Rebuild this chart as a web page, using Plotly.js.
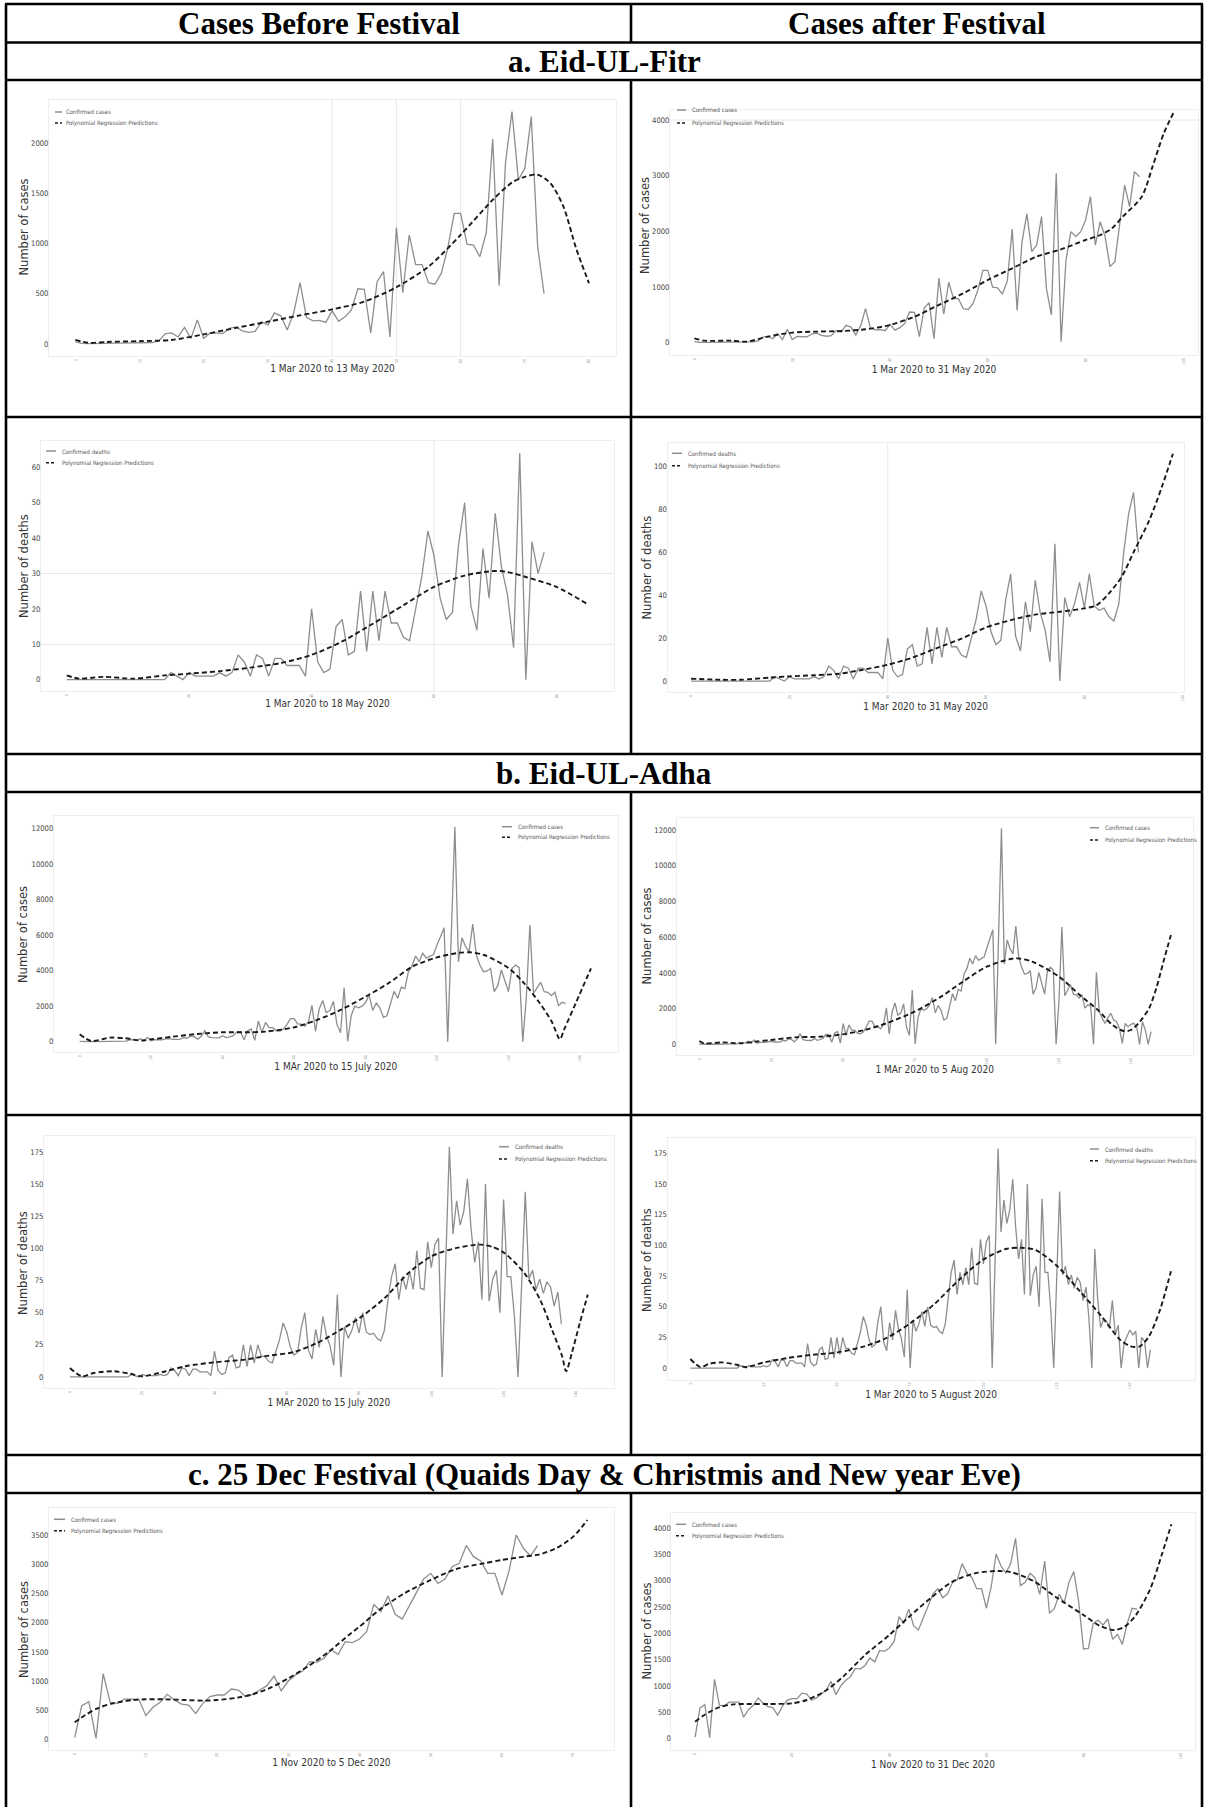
<!DOCTYPE html>
<html><head><meta charset="utf-8">
<script src="https://cdn.plot.ly/plotly-3.0.1.min.js"></script>
<style>html,body{margin:0;padding:0;background:#fff}#chart{width:1205px;height:1807px}</style>
</head><body><div id="chart"></div>
<script>
// ---------------- DATA ----------------
const columnHeaders = ["Cases Before Festival", "Cases after Festival"];
const sectionLabels = ["a. Eid-UL-Fitr", "b. Eid-UL-Adha", "c. 25 Dec Festival (Quaids Day & Christmis and New year Eve)"];
const seriesCasesLabel = "Confirmed cases";
const seriesDeathsLabel = "Confirmed deaths";
const seriesFitLabel = "Polynomial Regression Predictions";

// daily confirmed cases from 1 Mar 2020 (day 0) to 5 Aug 2020 (day 157)
const casesMarAug = [
  20,5,4,4,5,5,5,6,8,10,12,10,14,30,
  100,110,70,165,55,240,55,110,105,105,155,170,130,115,125,220,190,310,280,140,
  305,610,265,230,235,215,330,225,270,340,550,545,110,620,720,70,1160,510,1085,790,
  790,610,595,705,955,1300,1300,995,985,870,1110,2040,580,1810,2315,1635,1750,2265,970,500,
  3042,18,1485,1994,1904,1994,2200,2622,1754,2173,1904,1365,1455,2100,2832,2443,3072,2982,
  3940,4250,4818,4500,4968,4700,4780,4900,5437,5906,6412,0,6000,12093,4500,5850,5343,5062,6618,4875,
  4312,3937,3975,4125,2812,3150,4030,3375,2812,4125,4312,4162,0,2475,6562,2718,3000,3337,2812,2775,
  2587,2775,2025,2212,2156,0,4031,1829,1455,1175,1500,1735,1362,1269,896,56,1175,989,1120,1175,
  989,0,1269,800,0,709
];
// daily confirmed deaths from 1 Mar 2020 (day 0) to 5 Aug 2020 (day 157)
const deathsMarAug = [
  0,0,0,0,0,0,0,0,0,0,0,0,0,0,0,0,0,
  2,1,0,2,1,1,1,1,2,1,2,7,5,1,7,6,1,6,6,4,4,4,1,20,5,2,3,15,17,7,8,25,8,25,11,25,16,16,12,11,20,29,
  42,35,23,17,19,38,50,21,14,37,23,47,32,24,9,64,0,39,30,36,
  46,34,50,35,33,34,30,28,36,60,78,88,60,
  78,68,82,68,98,69,68,105,85,103,108,0,90,179,111,137,118,129,154,115,89,105,60,150,59,76,83,50,138,78,78,47,0,72,144,76,83,68,76,65,74,70,55,66,41,
  0,97,56,33,40,38,33,55,27,35,0,20,26,31,27,30,0,25,22,0,15
];
// daily confirmed cases from 1 Nov 2020 (day 0)
const casesNovDec = [
  23,574,643,11,1124,631,614,688,688,688,402,545,631,769,671,602,585,442,614,729,
  757,757,860,843,729,769,843,918,1084,832,998,1101,1170,1331,1320,1388,1532,1457,1675,1658,
  1721,1847,2318,2192,2461,2146,2065,2306,2524,2754,2851,2679,2754,2966,3024,3328,3138,3064,2851,2851,
  2478,2892,3511,3282,3150,3328,
  3810,2908,2971,3143,3060,2743,3378,2381,2476,2743,2571,2971,3175,2603,1702,1714,2190,2254,2159,2273,
  1886,1981,1790,2190,2476,2463
];

// polynomial regression predictions (day, value)
const fitrCasesBeforeFitDay = [0,2,5,10,15,20,25,30,35,40,45,50,55,60,65,68,70,72,74,76,78,80];
const fitrCasesBeforeFit    = [40,12,20,28,40,96,160,222,285,345,422,565,770,1086,1435,1608,1665,1685,1600,1370,950,605];
const fitrCasesAfterFitDay  = [0,2,7.6,10.7,15,20,25,30.5,35,40,45,50,55,60,65,70,75,80,83,85.4,87.6,91.5,93.7,96,98];
const fitrCasesAfterFit     = [78,36,36,18,108,180,198,210,240,317,467,677,886,1126,1335,1545,1677,1844,1934,2054,2263,2623,3162,3760,4132];
const fitrDeathsBeforeFitDay = [0,2,6,11,16,20,25,30,35,40,45,50,55,60,65,70,72,75,80,85];
const fitrDeathsBeforeFit    = [1.2,0.3,0.8,0.3,1.2,1.7,2.4,3.4,4.7,7,10.8,15.8,21,26.2,29.4,30.7,30.4,29,26.2,21.4];
const fitrDeathsAfterFitDay  = [0,6,10,16,20,25,30,35,40,45,50,55,60,65,70,75,80,82.5,85,87.6,90.2,93.2,95.8,98];
const fitrDeathsAfterFit     = [1.1,0.6,0.6,1.6,2.2,2.7,3.4,5.3,7.6,10.9,15.4,19.8,25,28.4,31,32.3,33.9,35.4,40.9,48.7,61,75,90.8,106];
const adhaCasesBeforeFitDay = [0,3.3,8.4,12.8,17.3,20,26.2,32.9,40,46.3,51.9,60,66.4,73,80,86.4,93.1,100,106.5,109.3,113.2,120.1,124.4,128.8,132.2,134.4,135.5,138.9,143.1];
const adhaCasesBeforeFit    = [412,37,225,187,56,131,281,431,525,525,562,806,1218,1781,2531,3281,4218,4743,5006,5025,4875,4125,3281,2156,1087,131,640,2197,4125];
const adhaCasesAfterFitDay  = [0,1.6,8,14.3,19.4,24.8,33.3,42.2,49.8,57.4,65,74.8,84,91.6,99.9,108.1,110.6,115.7,125,132.2,138.5,143.6,147.4,150,153.1,156.3,158.8,161.3,163.9];
const adhaCasesAfterFit     = [187,56,112,56,149,243,392,429,560,802,1176,1829,2669,3509,4349,4778,4815,4629,3789,2762,1922,1082,747,802,1269,2016,3135,4629,6122];
const adhaDeathsBeforeFitDay = [0,3.3,6.6,12.1,16.5,19.8,26.5,32,40,48.5,55.1,61.7,68.4,75,80.2,87.1,93.7,100.1,107,113.6,116.9,120.2,125.7,130.1,133.4,136.2,137.3,138.9,141.1,143.3];
const adhaDeathsBeforeFit    = [7,0.5,3.1,4.4,2.6,0.5,4.4,8.3,11.4,13.5,16.6,19.2,26.4,36.8,45.9,61.4,80.9,93.9,100.3,102.9,101.1,96.4,80.9,60.1,36.8,16.1,4.4,18.7,42,64];
const adhaDeathsAfterFitDay  = [0,3.4,6.5,10.8,15.8,18.9,25.2,33.2,42,50.3,59.4,66.9,75.2,83.1,91.8,100.1,108,113,117.9,125.2,132.9,140.3,146.6,150.3,153.4,156.5,160.3,164];
const adhaDeathsAfterFit     = [7.4,0.8,3.5,4.6,2.7,0.8,4.6,8.2,10.9,12.8,17.7,24.5,36.8,51.8,72.2,88.6,97.3,98.1,96.2,83.1,62.7,42.2,23.2,17.7,17.7,25.9,47.7,79];
const decCasesBeforeFitDay = [0,1.5,3.2,5.4,8.2,10,12.7,15.5,18.3,20,22.8,25,27.3,30,32.9,35.7,38.5,40,42.9,46.3,50,53.6,57.5,60,63.1,65.3,67.6,70,72];
const decCasesBeforeFit    = [287,413,528,614,671,683,683,671,660,671,711,769,872,1044,1262,1503,1790,1933,2232,2507,2737,2926,3024,3081,3138,3178,3282,3482,3769];
const decCasesAfterFitDay  = [0,1.9,4.9,7.9,11.7,15.4,20,23,26.8,30.5,35,40,44.1,48.6,53,57.6,62.2,65.2,69.7,74.2,80,83.3,86.3,88.5,90.8,93.8,96.1,98.1];
const decCasesAfterFit     = [317,444,590,648,654,654,667,730,902,1175,1587,1968,2317,2679,2984,3143,3187,3162,2997,2698,2349,2146,2063,2127,2349,2857,3492,4076];

// ---------------- PANELS (layout config) ----------------
const W = 1205, H = 1807;
const px = v => v / W, py = v => 1 - v / H;
const dayIdx = arr => arr.map((_, i) => i);

const panels = [
  {obs: casesMarAug.slice(0, 74), fd: fitrCasesBeforeFitDay, fv: fitrCasesBeforeFit, lab: seriesCasesLabel, yt: "Number of cases",
   xt: "1 Mar 2020 to 13 May 2020", box: [49, 616, 100, 356], xr: [-4.1, 84.2], xd: 10, xmax: 80, yr: [-120, 2430], yd: 500, ymax: 2000,
   leg: [55, 62, 64, 112, 123], ytx: 23, yty: 227.5, vg: [40, 50, 60], hg: []},
  {obs: casesMarAug.slice(0, 92), fd: fitrCasesAfterFitDay, fv: fitrCasesAfterFit, lab: seriesCasesLabel, yt: "Number of cases",
   xt: "1 Mar 2020 to 31 May 2020", box: [670, 1198, 110, 355], xr: [-5, 103], xd: 20, xmax: 100, yr: [-222, 4180], yd: 1000, ymax: 4000,
   leg: [677, 686, 690, 110, 123], ytx: 645, yty: 226, vg: [], hg: [4000]},
  {obs: deathsMarAug.slice(0, 79), fd: fitrDeathsBeforeFitDay, fv: fitrDeathsBeforeFit, lab: seriesDeathsLabel, yt: "Number of deaths",
   xt: "1 Mar 2020 to 18 May 2020", box: [41, 614, 441, 691], xr: [-4.2, 89.4], xd: 20, xmax: 80, yr: [-3.2, 67.4], yd: 10, ymax: 60,
   leg: [46, 56, 60, 451, 462.7], ytx: 24, yty: 566, vg: [60], hg: [10, 30]},
  {obs: deathsMarAug.slice(0, 92), fd: fitrDeathsAfterFitDay, fv: fitrDeathsAfterFit, lab: seriesDeathsLabel, yt: "Number of deaths",
   xt: "1 Mar 2020 to 31 May 2020", box: [667.5, 1183.7, 443, 692], xr: [-4.8, 100.2], xd: 20, xmax: 100, yr: [-5.1, 111], yd: 20, ymax: 100,
   leg: [672, 682, 686, 453.3, 465.7], ytx: 647, yty: 567.5, vg: [40], hg: []},
  {obs: casesMarAug.slice(0, 137), fd: adhaCasesBeforeFitDay, fv: adhaCasesBeforeFit, lab: seriesCasesLabel, yt: "Number of cases",
   xt: "1 MAr 2020 to 15 July 2020", box: [53.8, 617.8, 815.7, 1052.3], xr: [-7.25, 150.6], xd: 20, xmax: 140, yr: [-600, 12712], yd: 2000, ymax: 12000,
   leg: [502, 512, 516, 826.7, 837.3], ytx: 23, yty: 935, vg: [], hg: []},
  {obs: casesMarAug.slice(0, 158), fd: adhaCasesAfterFitDay, fv: adhaCasesAfterFit, lab: seriesCasesLabel, yt: "Number of cases",
   xt: "1 MAr 2020 to 5 Aug 2020", box: [676.6, 1192.8, 818.3, 1055], xr: [-7.9, 171.5], xd: 25, xmax: 150, yr: [-597, 12654], yd: 2000, ymax: 12000,
   leg: [1090, 1099, 1103, 827.7, 840], ytx: 646.5, yty: 936, vg: [], hg: []},
  {obs: deathsMarAug.slice(0, 137), fd: adhaDeathsBeforeFitDay, fv: adhaDeathsBeforeFit, lab: seriesDeathsLabel, yt: "Number of deaths",
   xt: "1 MAr 2020 to 15 July 2020", box: [43.9, 613.8, 1136.3, 1388], xr: [-7.2, 150.5], xd: 20, xmax: 140, yr: [-8.6, 187.1], yd: 25, ymax: 175,
   leg: [499, 509, 513, 1146.7, 1159], ytx: 23, yty: 1263, vg: [], hg: []},
  {obs: deathsMarAug.slice(0, 158), fd: adhaDeathsAfterFitDay, fv: adhaDeathsAfterFit, lab: seriesDeathsLabel, yt: "Number of deaths",
   xt: "1 Mar 2020 to 5 August 2020", box: [667.5, 1194.7, 1138, 1379.7], xr: [-7.8, 172.1], xd: 25, xmax: 150, yr: [-9.5, 187.6], yd: 25, ymax: 175,
   leg: [1090, 1099, 1103, 1149, 1160.7], ytx: 647, yty: 1260, vg: [], hg: []},
  {obs: casesNovDec.slice(0, 66), fd: decCasesBeforeFitDay, fv: decCasesBeforeFit, lab: seriesCasesLabel, yt: "Number of cases",
   xt: "1 Nov 2020 to 5 Dec 2020", box: [49, 613.8, 1508.3, 1750], xr: [-3.6, 75.7], xd: 10, xmax: 70, yr: [-189, 3970], yd: 500, ymax: 3500,
   leg: [54, 65, 69, 1519.3, 1530.7], ytx: 23.5, yty: 1629.5, vg: [], hg: []},
  {obs: casesNovDec.slice(0, 92), fd: decCasesAfterFitDay, fv: decCasesAfterFit, lab: seriesCasesLabel, yt: "Number of cases",
   xt: "1 Nov 2020 to 31 Dec 2020", box: [671.3, 1194.7, 1513.3, 1750], xr: [-4.9, 102.9], xd: 20, xmax: 100, yr: [-222, 4286], yd: 500, ymax: 4000,
   leg: [676, 686, 690, 1524.3, 1535.7], ytx: 646.5, yty: 1631, vg: [], hg: []}
];

const condensed = "DejaVu Sans Condensed, Liberation Sans Narrow, Arial Narrow, DejaVu Sans, sans-serif";
const traces = [];
const layout = {
  width: W, height: H, margin: {l: 0, r: 0, t: 0, b: 0},
  paper_bgcolor: "#ffffff", plot_bgcolor: "#ffffff", showlegend: false,
  shapes: [], annotations: []
};

function ticksTo(max, step) { const t = []; for (let v = 0; v <= max + 1e-9; v += step) t.push(v); return t; }

panels.forEach((p, i) => {
  const n = i + 1, xa = "x" + (n === 1 ? "" : n), ya = "y" + (n === 1 ? "" : n);
  const xk = "xaxis" + (n === 1 ? "" : n), yk = "yaxis" + (n === 1 ? "" : n);
  traces.push({x: dayIdx(p.obs), y: p.obs, type: "scatter", mode: "lines", name: p.lab, xaxis: xa, yaxis: ya,
    line: {color: "#8e8e8e", width: 1.3}, hoverinfo: "x+y"});
  traces.push({x: p.fd, y: p.fv, type: "scatter", mode: "lines", name: seriesFitLabel, xaxis: xa, yaxis: ya,
    line: {color: "#1a1a1a", width: 1.9, dash: "5px,3px", shape: "spline", smoothing: 0.8}, hoverinfo: "x+y"});
  const xt = ticksTo(p.xmax, p.xd);
  const yt = ticksTo(p.ymax, p.yd);
  layout[xk] = {
    domain: [px(p.box[0]), px(p.box[1])], anchor: ya, range: p.xr, fixedrange: true,
    showgrid: false, zeroline: false, showline: true, mirror: true, linecolor: "#eeeeee", linewidth: 1,
    tickmode: "array", tickvals: xt, ticktext: xt.map(String), tickangle: -90, ticks: "", ticklen: 0,
    tickfont: {family: condensed, size: 4, color: "#9a9a9a"},
    title: {text: p.xt, font: {family: condensed, size: 10, color: "#333"}, standoff: 2}
  };
  layout[yk] = {
    domain: [py(p.box[3]), py(p.box[2])], anchor: xa, range: p.yr, fixedrange: true,
    showgrid: false, zeroline: false, showline: true, mirror: true, linecolor: "#eeeeee", linewidth: 1,
    tickmode: "array", tickvals: yt, ticktext: yt.map(String), ticks: "", ticklen: 0, ticklabelstandoff: -2,
    tickfont: {family: condensed, size: 7.6, color: "#444"}
  };
  // y-axis title placed where the source draws it
  layout.annotations.push({xref: "paper", yref: "paper", x: px(p.ytx), y: py(p.yty), text: p.yt, textangle: -90,
    showarrow: false, xanchor: "center", yanchor: "middle", font: {family: "DejaVu Sans, sans-serif", size: 11.5, color: "#333"}});
  // faint gridlines visible in the source images
  p.vg.forEach(v => layout.shapes.push({type: "line", xref: xa, yref: ya + " domain", x0: v, x1: v, y0: 0, y1: 1,
    line: {color: "#e6e6e6", width: 1}, layer: "below"}));
  p.hg.forEach(v => layout.shapes.push({type: "line", xref: xa + " domain", yref: ya, x0: 0, x1: 1, y0: v, y1: v,
    line: {color: "#e6e6e6", width: 1}, layer: "below"}));
  // legend (small, as in the source)
  const L = p.leg;
  layout.shapes.push({type: "line", xref: "paper", yref: "paper", x0: px(L[0]), x1: px(L[1]), y0: py(L[3]), y1: py(L[3]),
    line: {color: "#8e8e8e", width: 1.5}});
  layout.shapes.push({type: "line", xref: "paper", yref: "paper", x0: px(L[0]), x1: px(L[1]), y0: py(L[4]), y1: py(L[4]),
    line: {color: "#1a1a1a", width: 1.6, dash: "3px,2px"}});
  layout.annotations.push({xref: "paper", yref: "paper", x: px(L[2]), y: py(L[3]), text: p.lab, showarrow: false,
    xanchor: "left", yanchor: "middle", font: {family: condensed, size: 6, color: "#555"}});
  layout.annotations.push({xref: "paper", yref: "paper", x: px(L[2]), y: py(L[4]), text: seriesFitLabel, showarrow: false,
    xanchor: "left", yanchor: "middle", font: {family: condensed, size: 6, color: "#555"}});
});

// table frame
const TL = 6, TR = 1202, TM = 631;
const hLines = [4, 42.5, 80, 417, 754, 792, 1115, 1455, 1493];
hLines.forEach(y => layout.shapes.push({type: "line", xref: "paper", yref: "paper", x0: px(TL - 1), x1: px(TR + 1), y0: py(y), y1: py(y),
  line: {color: "#000", width: 2.6}}));
[[TL, 4, H], [TR, 4, H]].forEach(s => layout.shapes.push({type: "line", xref: "paper", yref: "paper", x0: px(s[0]), x1: px(s[0]),
  y0: py(s[1]), y1: py(s[2]), line: {color: "#000", width: 2.6}}));
[[4, 42.5], [80, 754], [792, 1455], [1493, H]].forEach(s => layout.shapes.push({type: "line", xref: "paper", yref: "paper",
  x0: px(TM), x1: px(TM), y0: py(s[0]), y1: py(s[1]), line: {color: "#000", width: 2.6}}));

const headFont = {family: "Liberation Serif, Times New Roman, serif", size: 31, color: "#000", weight: "bold"};
layout.annotations.push({xref: "paper", yref: "paper", x: px((TL + TM) / 2), y: py(23.5), text: "<b>" + columnHeaders[0] + "</b>",
  showarrow: false, xanchor: "center", yanchor: "middle", font: headFont});
layout.annotations.push({xref: "paper", yref: "paper", x: px((TM + TR) / 2), y: py(23.5), text: "<b>" + columnHeaders[1] + "</b>",
  showarrow: false, xanchor: "center", yanchor: "middle", font: headFont});
[[sectionLabels[0], 61.5], [sectionLabels[1], 773.5], [sectionLabels[2], 1474.5]].forEach(s =>
  layout.annotations.push({xref: "paper", yref: "paper", x: px((TL + TR) / 2), y: py(s[1]), text: "<b>" + s[0] + "</b>",
    showarrow: false, xanchor: "center", yanchor: "middle", font: headFont}));

Plotly.newPlot("chart", traces, layout, {staticPlot: true, displayModeBar: false});
</script></body></html>
